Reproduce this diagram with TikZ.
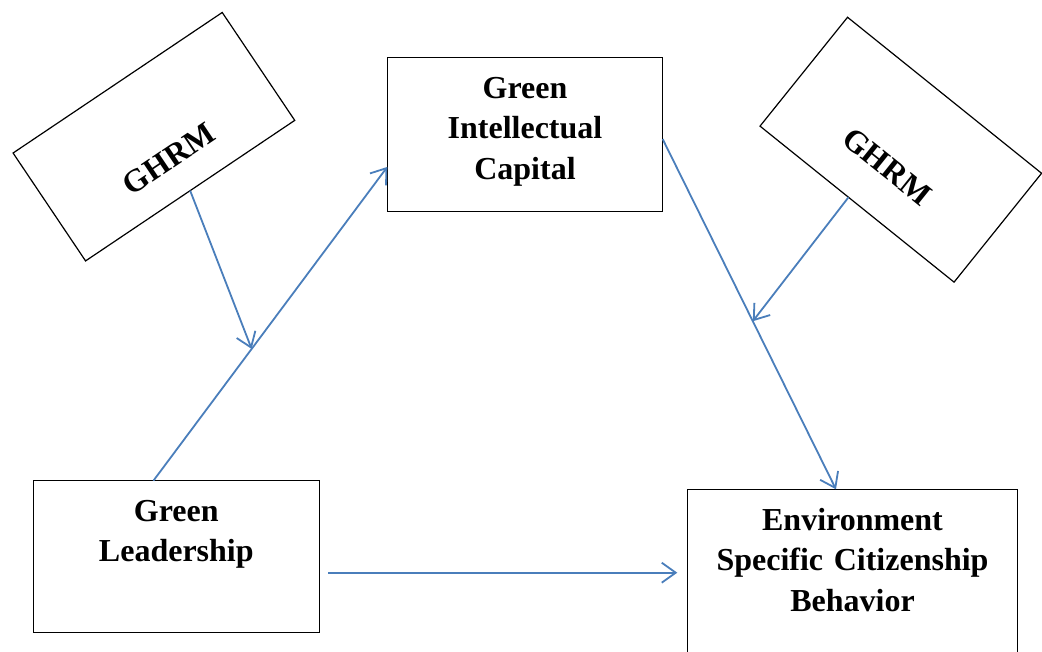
\documentclass[tikz,border=0pt]{standalone}
\usepackage{fontspec}
\setmainfont{Liberation Serif}
\usetikzlibrary{arrows.meta,calc}
\definecolor{linkblue}{RGB}{74,126,187}

\begin{document}
\begin{tikzpicture}[x=1pt, y=-1pt,
  box/.style={draw=black, line width=1.2pt, inner sep=0pt, outer sep=0pt, align=center,
    font=\fontsize{32}{40.5}\selectfont\bfseries},
  link/.style={draw=linkblue, line width=1.8pt, -{Straight Barb[length=14pt,width=20pt]}}]
\useasboundingbox (0,0) rectangle (1042,652);

\node[box, rotate=33.9, minimum width=252pt, text height=102pt, text depth=28pt] (ghrmL) at (153.9,136.7) {GHRM};
\node[box, rotate=-38.8, minimum width=249pt, text height=101.9pt, text depth=37.8pt] (ghrmR) at (900.8,149.7) {GHRM};
\node[box, anchor=north west, text width=275.4pt, text height=41pt, text depth=113.4pt] (GIC) at (387.3,57.3) {Green\\Intellectual\\Capital};
\node[box, anchor=north west, text width=286pt, text height=40.3pt, text depth=111.7pt] (GL) at (33.3,480.7) {Green\\Leadership};
\node[box, anchor=north west, text width=330.4pt, text height=40.7pt, text depth=150pt] (ESCB) at (687.3,489.3) {Environment\\Specific Citizenship\\Behavior};

\coordinate (glUp) at ($(GL.north west)!0.42!(GL.north east)$);
\coordinate (gicIn) at ($(GIC.north west)!0.71!(GIC.south west)$);
\coordinate (gicOut) at ($(GIC.north east)!0.53!(GIC.south east)$);
\coordinate (escbIn) at ($(ESCB.north west)!0.45!(ESCB.north east)$);
\coordinate (glOut) at ($(GL.east)+(9,16)$);
\coordinate (escbLeft) at ($(glOut -| ESCB.west)+(-10,0)$);

\draw[link] (glUp) -- (gicIn);
\draw[link] (gicOut) -- (escbIn);
\draw[link] (glOut) -- (escbLeft);
\draw[link] (ghrmL.south) -- ($(glUp)!0.42!(gicIn)$);
\draw[link] ($(ghrmR.south west)!0.456!(ghrmR.south east)$) -- ($(gicOut)!0.52!(escbIn)$);
\end{tikzpicture}
\end{document}
